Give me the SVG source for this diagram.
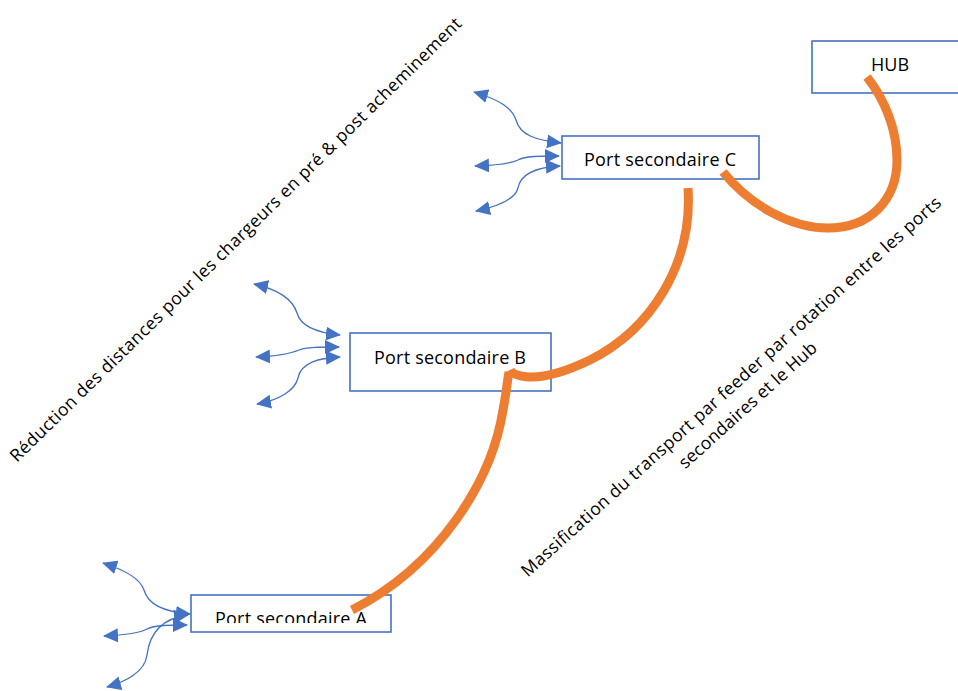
<svg xmlns="http://www.w3.org/2000/svg" width="958" height="691" viewBox="0 0 958 691">
<style>
.box{fill:#fff;stroke:#4472C4;stroke-width:1.6}
.lbl{font-family:"Open Sans","Liberation Sans",sans-serif;font-size:18px;fill:#000;text-anchor:middle}
.note{font-family:"Open Sans","Liberation Sans",sans-serif;font-size:17.5px;fill:#000}
.feed{fill:none;stroke:#ED7D31;stroke-width:9}
.link{fill:none;stroke:#4472C4;stroke-width:1.3;marker-start:url(#ah);marker-end:url(#ah)}
</style>
<defs>
<marker id="ah" viewBox="0 0 15 15" refX="14" refY="7.5" markerWidth="15" markerHeight="15" markerUnits="userSpaceOnUse" orient="auto-start-reverse">
<path d="M0,0.5 L15,7.5 L0,14.5 z" fill="#4472C4"/>
</marker>
<clipPath id="clipA"><rect x="191" y="595" width="200" height="28"/></clipPath>
</defs>
<rect width="958" height="691" fill="#fff"/>
<g id="node-hub">
<rect class="box" x="812" y="41" width="156" height="52"/>
<text class="lbl" x="890" y="71">HUB</text>
</g>
<g id="node-c">
<rect class="box" x="562" y="136" width="197" height="43"/>
<text class="lbl" x="660" y="166" textLength="152">Port secondaire C</text>
</g>
<g id="node-b">
<rect class="box" x="350" y="333" width="201" height="58"/>
<text class="lbl" x="450" y="364" textLength="152">Port secondaire B</text>
</g>
<g id="node-a">
<rect class="box" x="191" y="595" width="200" height="37"/>
<text class="lbl" x="291" y="625" textLength="152" clip-path="url(#clipA)">Port secondaire A</text>
</g>
<g id="connectors">
<path class="feed" d="M867,77 C885,100 897,130 897,160 C897,200 870,228 828,228 C790,228 750,205 723,172"/>
<path class="feed" d="M688,188 C693,265 650,330 590,360 C565,372 545,378 528,377 C518,376 512,374 510,370"/>
<path class="feed" d="M352,610 C440,565 492,480 503,410 C506,395 507,383 509,372"/>
<path class="link" d="M474,92 C500,100 512,108 516,120 C520,135 535,140 561,143"/>
<path class="link" d="M475,166 C500,165 512,163 518,160 C525,156 540,156 559,156"/>
<path class="link" d="M476,211 C495,207 515,200 518,188 C521,172 540,167 560,166"/>
<path class="link" d="M254,284 C280,290 293,300 297,313 C301,328 320,333 340,335"/>
<path class="link" d="M256,357 C280,356 292,353 299,350 C306,347 320,347 339,347"/>
<path class="link" d="M257,404 C280,400 295,390 298,378 C301,362 320,358 340,357"/>
<path class="link" d="M103,563 C125,570 140,578 144,590 C148,605 165,612 190,614"/>
<path class="link" d="M104,636 C125,635 140,633 147,629 C155,625 170,625 187,625"/>
<path class="link" d="M107,687 C125,682 145,672 147,655 C150,630 165,618 188,615"/>
</g>
<g id="notes">
<text class="note" transform="translate(17,463) rotate(-44.5)" textLength="625">Réduction des distances pour les chargeurs en pré &amp; post acheminement</text>
<g transform="translate(735,391) rotate(-42)">
<text class="note" x="0" y="0" text-anchor="middle" textLength="558">Massification du transport par feeder par rotation entre les ports</text>
<text class="note" x="0" y="25" text-anchor="middle" textLength="179">secondaires et le Hub</text>
</g>
</g>
</svg>
